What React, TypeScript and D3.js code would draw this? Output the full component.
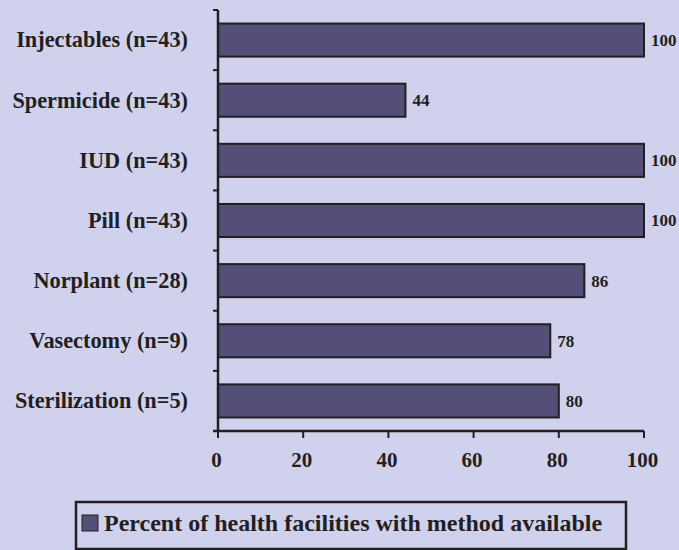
import React from "react";
import * as d3 from "d3";

const categories = [
  "Injectables (n=43)",
  "Spermicide (n=43)",
  "IUD (n=43)",
  "Pill (n=43)",
  "Norplant (n=28)",
  "Vasectomy (n=9)",
  "Sterilization (n=5)",
];
const values = [100, 44, 100, 100, 86, 78, 80];
const xTicks = [0, 20, 40, 60, 80, 100];
const legendLabel = "Percent of health facilities with method available";

const W = 679;
const H = 550;
const BG = "#d0d1ec";
const BAR = "#544f78";
const INK = "#231f20";
const FONT = "'Liberation Serif', 'Times New Roman', serif";

export default function App() {
  const x = d3.scaleLinear().domain([0, 100]).range([218, 644]);
  const y = d3
    .scaleBand<string>()
    .domain(categories)
    .range([10, 431])
    .paddingInner(0.45)
    .paddingOuter(0.225);
  const y0 = 10;
  const yTickPos = d3.range(categories.length + 1).map((i) => 10 + i * (421 / categories.length));

  return (
    <svg
      width={W}
      height={H}
      style={{ position: "absolute", left: 0, top: 0, display: "block" }}
      fontFamily={FONT}
      fontWeight="bold"
    >
      <rect x={0} y={0} width={W} height={H} fill={BG} />
      {categories.map((c, i) => (
        <g key={c}>
          <rect
            x={x(0)}
            y={y(c)!}
            width={x(values[i]) - x(0)}
            height={y.bandwidth()}
            fill={BAR}
            stroke={INK}
            strokeWidth={2}
          />
          <text
            x={x(values[i]) + 7}
            y={y(c)! + y.bandwidth() / 2}
            dy="0.35em"
            fontSize={17}
            fill={INK}
          >
            {values[i]}
          </text>
          <text
            x={188}
            y={y(c)! + y.bandwidth() / 2}
            dy="0.33em"
            fontSize={22.3}
            textAnchor="end"
            fill={INK}
          >
            {c}
          </text>
        </g>
      ))}
      {/* y axis */}
      <line x1={x(0)} x2={x(0)} y1={y0} y2={431} stroke={INK} strokeWidth={2.5} />
      {yTickPos.map((t, i) => (
        <line key={i} x1={x(0) - 5} x2={x(0)} y1={t} y2={t} stroke={INK} strokeWidth={2} />
      ))}
      {/* x axis */}
      <line x1={x(0) - 5} x2={x(100)} y1={431} y2={431} stroke={INK} strokeWidth={2.5} />
      {xTicks.map((t) => (
        <g key={t}>
          <line x1={x(t)} x2={x(t)} y1={431} y2={438} stroke={INK} strokeWidth={2} />
          <text x={x(t) - 1.5} y={467} fontSize={21} textAnchor="middle" fill={INK}>
            {t}
          </text>
        </g>
      ))}
      {/* legend */}
      <rect x={76} y={502} width={550} height={47} fill="none" stroke={INK} strokeWidth={2.5} />
      <rect x={82} y={515} width={16} height={16} fill={BAR} stroke={INK} strokeWidth={1} />
      <text x={104} y={531} fontSize={24} fill={INK}>
        {legendLabel}
      </text>
    </svg>
  );
}
